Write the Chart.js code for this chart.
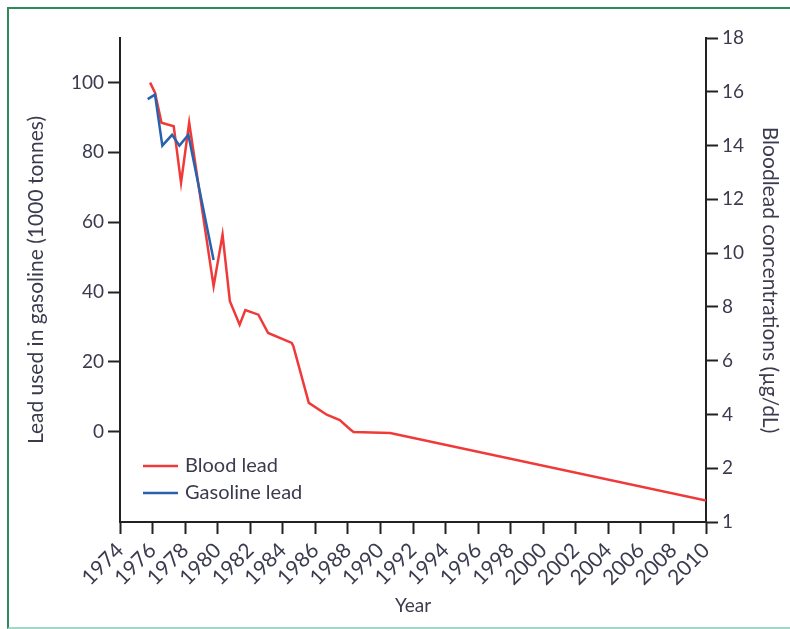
<!DOCTYPE html>
<html>
<head>
<meta charset="utf-8">
<script src="https://cdn.jsdelivr.net/npm/chart.js@4.4.1/dist/chart.umd.min.js"></script>
<style>
  html, body { margin: 0; padding: 0; background: #fff; }
  #marco { position: absolute; left: 7px; top: 7px; width: 790px; height: 618px;
           border-left: 2px solid #2f8a5c; border-top: 2px solid #2f8a5c; border-bottom: 2px solid #a3d8c8; }
  #caja { position: absolute; left: 0; top: 0; width: 790px; height: 629px; }
</style>
</head>
<body>
<div id="marco"></div>
<div id="caja"><canvas id="GraficoPlomo" width="790" height="629"></canvas></div>
<script>
// datos
const bloodYears = [1975.85, 1976.15, 1976.55, 1977.3, 1977.75, 1978.25, 1979.75, 1980.3, 1980.75, 1981.35,
                    1981.7, 1982.5, 1983.1, 1984.55, 1984.65, 1985.6, 1986.7, 1987.5, 1988.15, 1988.35, 1990.6, 2010];
const bloodLead = [16.34, 15.97, 14.85, 14.72, 12.62, 14.85, 8.77, 10.69, 8.21, 7.34,
                   7.88, 7.71, 7.03, 6.66, 6.54, 4.43, 3.99, 3.79, 3.44, 3.35, 3.31, 0.80];
const gasYears = [1975.7, 1976.15, 1976.6, 1977.2, 1977.65, 1978.2, 1979.75];
const gasLead = [95.2, 96.5, 81.9, 85.0, 81.9, 85.0, 49.2];

const leftTicks = [0, 20, 40, 60, 80, 100];
const rightTicks = [0, 2, 4, 6, 8, 10, 12, 14, 16, 18];
const rightTickLabels = ['1', '2', '4', '6', '8', '10', '12', '14', '16', '18'];

const colorTexto = '#3b3b4f';
const colorEje = '#222222';
const fuente = 'Lato, "Open Sans", sans-serif';

// leyenda dentro del area del grafico
const leyendaPlomo = {
  id: 'leyendaPlomo',
  afterDatasetsDraw(chart) {
    const c = chart.ctx;
    const area = chart.chartArea;
    const items = [
      { texto: 'Blood lead', color: '#f03a3a', dy: 56 },
      { texto: 'Gasoline lead', color: '#2862ad', dy: 29 }
    ];
    c.save();
    c.font = '20px ' + fuente;
    c.textBaseline = 'middle';
    items.forEach(function(it) {
      const y = area.bottom - it.dy;
      c.strokeStyle = it.color;
      c.lineWidth = 2.5;
      c.beginPath();
      c.moveTo(area.left + 23, y);
      c.lineTo(area.left + 58, y);
      c.stroke();
      c.fillStyle = colorTexto;
      c.fillText(it.texto, area.left + 65, y);
    });
    c.restore();
  }
};

const ejeComun = {
  grid: { display: true, drawOnChartArea: false, drawTicks: true, tickLength: 12, tickWidth: 2, tickColor: colorEje },
  border: { display: true, color: colorEje, width: 2 }
};

new Chart(document.getElementById('GraficoPlomo'), {
  type: 'line',
  data: {
    datasets: [{
      label: 'Blood lead',
      data: bloodYears.map((x, i) => ({ x: x, y: bloodLead[i] })),
      yAxisID: 'y2',
      borderColor: '#f03a3a',
      borderWidth: 2.5,
      pointRadius: 0,
      tension: 0,
      order: 2
    }, {
      label: 'Gasoline lead',
      data: gasYears.map((x, i) => ({ x: x, y: gasLead[i] })),
      yAxisID: 'y',
      borderColor: '#2862ad',
      borderWidth: 2.5,
      pointRadius: 0,
      tension: 0,
      order: 1
    }]
  },
  options: {
    responsive: false,
    animation: false,
    layout: { padding: { top: 38, left: 0, right: 0, bottom: 0 } },
    plugins: { legend: { display: false }, tooltip: { enabled: false } },
    scales: {
      x: Object.assign({}, ejeComun, {
        type: 'linear',
        position: 'bottom',
        min: 1974,
        max: 2010,
        ticks: { stepSize: 2, autoSkip: false, minRotation: 45, maxRotation: 45, color: colorTexto,
                 font: { family: fuente, size: 21 }, padding: 4, callback: v => String(v) },
        title: { display: true, text: 'Year', color: colorTexto, font: { family: fuente, size: 19 }, padding: { top: 0, bottom: 12 } },
        afterFit: s => { s.height = 107; }
      }),
      y: Object.assign({}, ejeComun, {
        type: 'linear',
        position: 'left',
        min: -25.8,
        max: 112.7,
        afterBuildTicks: s => { s.ticks = leftTicks.map(v => ({ value: v })); },
        ticks: { color: colorTexto, font: { family: fuente, size: 19 }, padding: 4 },
        title: { display: true, text: 'Lead used in gasoline (1000 tonnes)', color: colorTexto, font: { family: fuente, size: 21 }, padding: { top: 24, bottom: 0 } },
        afterFit: s => { s.width = 120; }
      }),
      y2: Object.assign({}, ejeComun, {
        type: 'linear',
        position: 'right',
        min: 0,
        max: 18,
        afterBuildTicks: s => { s.ticks = rightTicks.map(v => ({ value: v })); },
        ticks: { color: colorTexto, font: { family: fuente, size: 19 }, padding: 4,
                 callback: (v) => rightTickLabels[rightTicks.indexOf(v)] },
        title: { display: true, text: 'Bloodlead concentrations (µg/dL)', color: colorTexto, font: { family: fuente, size: 21 }, padding: { top: 8, bottom: 0 } },
        afterFit: s => { s.width = 84; }
      })
    }
  },
  plugins: [leyendaPlomo]
});
</script>
</body>
</html>
